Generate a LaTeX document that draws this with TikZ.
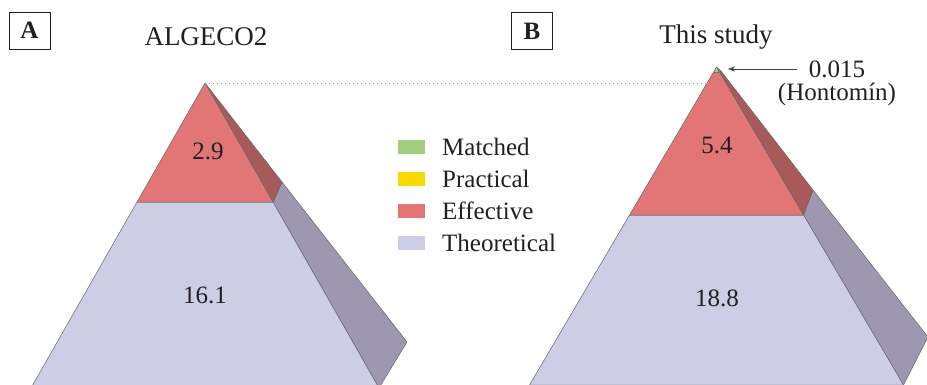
\documentclass[tikz,border=0pt]{standalone}
\usepackage{fontspec}
\setmainfont{Liberation Serif}
\usetikzlibrary{arrows.meta}
\definecolor{redF}{HTML}{E27676}
\definecolor{redS}{HTML}{A85A5A}
\definecolor{lavF}{HTML}{CDCDE5}
\definecolor{lavS}{HTML}{9E97B0}
\definecolor{grnF}{HTML}{A2CC7E}
\definecolor{grnS}{HTML}{6E9A55}
\definecolor{yelF}{HTML}{F7D900}
\definecolor{txt}{HTML}{231F20}
\tikzset{
  face/.style={draw=black!60, line width=0.5pt, line join=round},
  lbl/.style={font=\fontsize{25}{28}\selectfont, text=txt, inner sep=0pt},
  ttl/.style={font=\fontsize{27}{30}\selectfont, text=txt, inner sep=0pt},
  panel/.style={draw=txt, line width=1pt, minimum width=41pt, minimum height=37pt, inner sep=0pt, font=\fontsize{25}{28}\selectfont\bfseries, text=txt},
  legsq/.style={minimum width=28pt, minimum height=15pt, inner sep=0pt, draw=white, line width=0.4pt},
  legtxt/.style={font=\fontsize{25}{28}\selectfont, text=txt, inner sep=0pt, anchor=west},
}
\begin{document}
\begin{tikzpicture}[x=1pt,y=-1pt]
\useasboundingbox (0,0) rectangle (927,384);
\clip (0,0) rectangle (927,384);
% ---------------- Pyramid A
\coordinate (aT) at (205,83);
\fill[lavS,face] (273,202) -- (282,182) -- (407,342) -- (379,388) -- cycle;
\fill[redS,face] (aT) -- (282,182) -- (273,202) -- cycle;
\fill[lavF,face] (137,202) -- (273,202) -- (379,388) -- (31,388) -- cycle;
\fill[redF,face] (aT) -- (273,202) -- (137,202) -- cycle;
% ---------------- Pyramid B
\coordinate (bT) at (716.5,67);
\fill[lavS,face] (803.5,215) -- (813,190) -- (928,337) -- (903.5,385) -- cycle;
\fill[redS,face] (719.4,72) -- (721,71) -- (813,190) -- (803.5,215) -- cycle;
\fill[grnS,face] (bT) -- (721,71) -- (719.4,72) -- cycle;
\fill[lavF,face] (629.5,215) -- (803.5,215) -- (903.5,385) -- (529.5,385) -- cycle;
\fill[redF,face] (713.6,72) -- (719.4,72) -- (803.5,215) -- (629.5,215) -- cycle;
\fill[grnF,face] (bT) -- (719.4,72) -- (713.6,72) -- cycle;
% dotted reference line
\coordinate (bL) at (706.5,83);
\draw[black!45, line width=0.8pt, dash pattern=on 1pt off 3pt] (aT) -- (bL);
% panel labels and titles
\node[panel] (pA) at (29.5,30.5) {A};
\node[panel] (pB) at (532,31) {B};
\node[ttl] (tA) at (206,37) {ALGECO2};
\node[ttl] (tB) at (716,37) {This study};
% values
\node[lbl] (v1) at (208,151) {2.9};
\node[lbl] (v2) at (205,295) {16.1};
\node[lbl] (v3) at (717,145) {5.4};
\node[lbl] (v4) at (717,298) {18.8};
% annotation
\node[lbl] (n1) at (837,69) {0.015};
\node[lbl] (n2) at (837,94) {(Hontomín)};
\coordinate (tip) at (728,69);
\draw[black!75, line width=0.6pt, -{Stealth[length=7pt,width=5pt]}] (797,69) -- (tip);
% legend
\node[legsq, fill=grnF] (s1) at (411,147) {};
\node[legsq, fill=yelF] (s2) at (411,179) {};
\node[legsq, fill=redF] (s3) at (411,211) {};
\node[legsq, fill=lavF] (s4) at (411,243) {};
\node[legtxt] (l1) at (442,147) {Matched};
\node[legtxt] (l2) at (442,179) {Practical};
\node[legtxt] (l3) at (442,211) {Effective};
\node[legtxt] (l4) at (442,243) {Theoretical};
\end{tikzpicture}
\end{document}
